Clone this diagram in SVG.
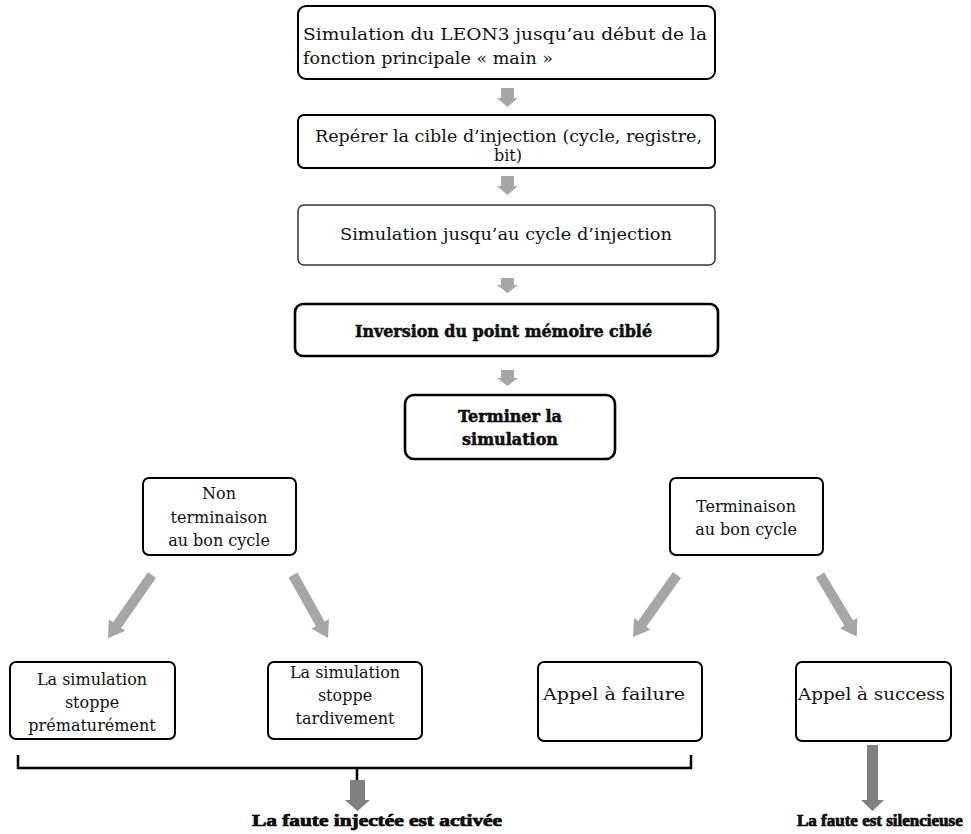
<svg xmlns="http://www.w3.org/2000/svg" width="971" height="834" viewBox="0 0 971 834">
<style>
.box{fill:#fff;stroke:#000;stroke-width:2}
.thin{fill:#fff;stroke:#333;stroke-width:1.5}
.thick{fill:#fff;stroke:#000;stroke-width:2.6}
text{font-family:"DejaVu Serif","Liberation Serif",serif;font-size:16px;fill:#111}
.b{font-weight:bold;font-size:16px}
.h{font-family:"Liberation Serif","DejaVu Serif",serif;font-weight:bold;font-size:17px;stroke:#000;stroke-width:0.7}
.c{text-anchor:middle}
.arr{fill:#a6a6a6}
.arr2{fill:#808080}
.br{fill:none;stroke:#000;stroke-width:2.5}
</style>
<g id="n1">
<rect class="box" x="298" y="6" width="417" height="73" rx="8"/>
<text x="303" y="40" textLength="404" lengthAdjust="spacingAndGlyphs">Simulation du LEON3 jusqu’au début de la</text>
<text x="303" y="64" textLength="250" lengthAdjust="spacingAndGlyphs">fonction principale « main »</text>
</g>
<g id="n2">
<rect class="box" x="298" y="115" width="417" height="53" rx="6"/>
<text x="315" y="142" textLength="387" lengthAdjust="spacingAndGlyphs">Repérer la cible d’injection (cycle, registre,</text>
<text class="c" x="508" y="161">bit)</text>
</g>
<g id="n3">
<rect class="thin" x="298" y="205" width="417" height="60" rx="6"/>
<text x="340" y="240" textLength="332" lengthAdjust="spacingAndGlyphs">Simulation jusqu’au cycle d’injection</text>
</g>
<g id="n4">
<rect class="thick" x="295" y="304" width="423" height="52" rx="8"/>
<text class="b" x="355" y="337" textLength="297" lengthAdjust="spacingAndGlyphs" style="stroke:#000;stroke-width:0.5">Inversion du point mémoire ciblé</text>
</g>
<g id="n5">
<rect class="thick" x="405" y="395" width="210" height="64" rx="9"/>
<text class="b c" x="510" y="422" style="stroke:#000;stroke-width:0.5">Terminer la</text>
<text class="b c" x="510" y="445" style="stroke:#000;stroke-width:0.5">simulation</text>
</g>
<g id="n6">
<rect class="box" x="143" y="478" width="153" height="77" rx="6"/>
<text class="c" x="219" y="499">Non</text>
<text class="c" x="219" y="523">terminaison</text>
<text class="c" x="219" y="546">au bon cycle</text>
</g>
<g id="n7">
<rect class="box" x="670" y="478" width="153" height="77" rx="6"/>
<text class="c" x="746" y="512">Terminaison</text>
<text class="c" x="746" y="535">au bon cycle</text>
</g>
<g id="n8">
<rect class="box" x="10" y="662" width="165" height="77" rx="6"/>
<text class="c" x="92" y="685">La simulation</text>
<text class="c" x="92" y="708">stoppe</text>
<text class="c" x="92" y="731">prématurément</text>
</g>
<g id="n9">
<rect class="box" x="268" y="662" width="154" height="77" rx="6"/>
<text class="c" x="345" y="678">La simulation</text>
<text class="c" x="345" y="701">stoppe</text>
<text class="c" x="345" y="724">tardivement</text>
</g>
<g id="n10">
<rect class="box" x="538" y="662" width="164" height="79" rx="6"/>
<text x="543" y="700" textLength="142" lengthAdjust="spacingAndGlyphs">Appel à failure</text>
</g>
<g id="n11">
<rect class="box" x="796" y="662" width="155" height="79" rx="6"/>
<text x="798" y="700" textLength="147" lengthAdjust="spacingAndGlyphs">Appel à success</text>
</g>
<g id="r1">
<text class="h" x="252" y="826" textLength="250" lengthAdjust="spacingAndGlyphs">La faute injectée est activée</text>
</g>
<g id="r2">
<text class="h" x="797" y="826">La faute est silencieuse</text>
</g>
<g id="connectors">
<path class="arr" d="M501,88 h13 v10 h4 l-10.5,9 l-10.5,-9 h4 z"/>
<path class="arr" d="M501,176 h13 v10 h4 l-10.5,9 l-10.5,-9 h4 z"/>
<path class="arr" d="M501,278 h13 v7 h4 l-10.5,8 l-10.5,-8 h4 z"/>
<path class="arr" d="M501,370 h13 v8 h4 l-10.5,8 l-10.5,-8 h4 z"/>
<path class="arr" transform="translate(152,575) rotate(124.9)" d="M0,-5 H61 V-10 L77,0 L61,10 V5 H0 Z"/>
<path class="arr" transform="translate(293,575) rotate(60.9)" d="M0,-5 H56 V-10 L72,0 L56,10 V5 H0 Z"/>
<path class="arr" transform="translate(677,575) rotate(125.4)" d="M0,-5 H60 V-10 L76,0 L60,10 V5 H0 Z"/>
<path class="arr" transform="translate(820,575) rotate(59.2)" d="M0,-5 H56 V-10 L72,0 L56,10 V5 H0 Z"/>
<path class="br" d="M18,755 V768 H691 V755 M357,768 V780"/>
<path class="arr2" d="M350,780 h15 v20 h5 l-12.5,11 l-12.5,-11 h5 z"/>
<path class="arr2" d="M867,745 h11 v55 h6 l-11.5,11 l-11.5,-11 h6 z"/>
</g>
</svg>
